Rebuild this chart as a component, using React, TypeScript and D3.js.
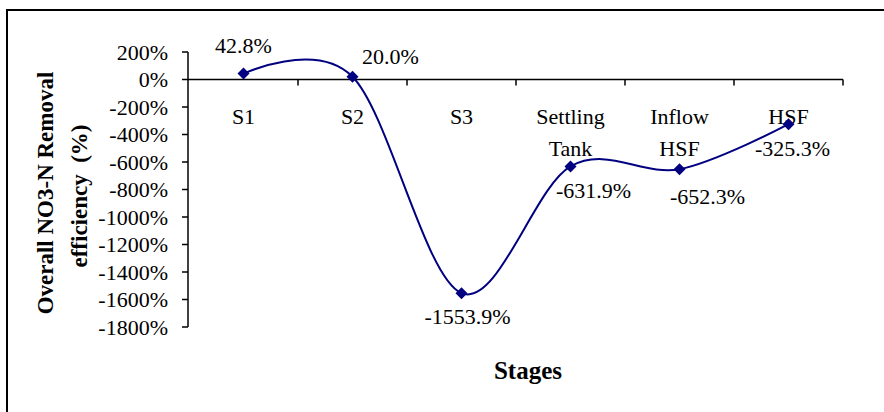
import React from "react";
import * as d3 from "d3";

const categories: string[][] = [["S1"], ["S2"], ["S3"], ["Settling", "Tank"], ["Inflow", "HSF"], ["HSF"]];
const values: number[] = [42.8, 20.0, -1553.9, -631.9, -652.3, -325.3];
const valueLabels: string[] = ["42.8%", "20.0%", "-1553.9%", "-631.9%", "-652.3%", "-325.3%"];
const yTicks: number[] = [200, 0, -200, -400, -600, -800, -1000, -1200, -1400, -1600, -1800];

// label placement offsets (style, not data)
const labelOffsets: [number, number][] = [[0, -21], [38, -13], [6, 31], [23, 32], [28, 35], [4, 32]];

const W = 884;
const H = 412;
const NAVY = "#000080";
const FONT = "Liberation Serif";

export default function App() {
  const x = d3.scaleBand<number>().domain(d3.range(categories.length)).range([189, 843]);
  const y = d3.scaleLinear().domain([-1800, 200]).range([327, 52]);
  const cx = (i: number) => (x(i) as number) + x.bandwidth() / 2;
  const pts: [number, number][] = values.map((v, i) => [cx(i), y(v)]);
  const line = d3.line().curve(d3.curveCardinal.tension(0))(pts) as string;
  const diamond = d3.symbol().type(d3.symbolSquare).size(72)() as string;
  const y0 = y(0);
  const bounds = [...d3.range(categories.length).map((i) => x(i) as number), 843];
  const txt = { fontFamily: FONT, fill: "#000" } as const;

  return (
    <div style={{ position: "absolute", left: 0, top: 0 }}>
      <svg width={W} height={H} style={{ display: "block", background: "#fff", fontFamily: FONT }}>
        <rect x={0} y={0} width={W} height={H} fill="#fff" />
        <rect x={7} y={10} width={W + 20} height={H + 20} fill="none" stroke="#000" strokeWidth={2} />
        {/* Y axis */}
        <line x1={188} x2={188} y1={y(200)} y2={y(-1800)} stroke="#000" strokeWidth={1.5} />
        {yTicks.map((t) => (
          <g key={t}>
            <line x1={182} x2={188} y1={y(t)} y2={y(t)} stroke="#000" strokeWidth={1.5} />
            <text x={168} y={y(t)} dy="0.35em" textAnchor="end" fontSize={22} style={txt}>
              {t + "%"}
            </text>
          </g>
        ))}
        {/* X axis */}
        <line x1={188} x2={843} y1={y0} y2={y0} stroke="#000" strokeWidth={1.5} />
        {bounds.slice(1).map((b, i) => (
          <line key={i} x1={b} x2={b} y1={y0} y2={y0 + 6} stroke="#000" strokeWidth={1.5} />
        ))}
        {categories.map((lines, i) => (
          <text key={i} x={cx(i)} y={124} textAnchor="middle" fontSize={22} style={txt}>
            {lines.map((l, j) => (
              <tspan key={j} x={cx(i)} dy={j === 0 ? 0 : 32}>
                {l}
              </tspan>
            ))}
          </text>
        ))}
        {/* series */}
        <path d={line} fill="none" stroke={NAVY} strokeWidth={2} />
        {pts.map(([px, py], i) => (
          <path key={i} d={diamond} transform={`translate(${px},${py}) rotate(45)`} fill={NAVY} />
        ))}
        {pts.map(([px, py], i) => (
          <text
            key={i}
            x={px + labelOffsets[i][0]}
            y={py + labelOffsets[i][1]}
            textAnchor="middle"
            fontSize={22}
            style={txt}
          >
            {valueLabels[i]}
          </text>
        ))}
        {/* titles */}
        <text x={528} y={379} textAnchor="middle" fontSize={25} fontWeight="bold" style={txt}>
          Stages
        </text>
        <g transform="translate(45,193) rotate(-90)">
          <text x={0} y={0} dy="0.35em" textAnchor="middle" fontSize={23} fontWeight="bold" style={txt}>
            Overall NO3-N Removal
          </text>
        </g>
        <g transform="translate(79,196) rotate(-90)">
          <text x={0} y={0} dy="0.35em" textAnchor="middle" fontSize={23} fontWeight="bold" style={{ ...txt, whiteSpace: "pre" }}>
            {"efficiency  (%)"}
          </text>
        </g>
      </svg>
    </div>
  );
}
